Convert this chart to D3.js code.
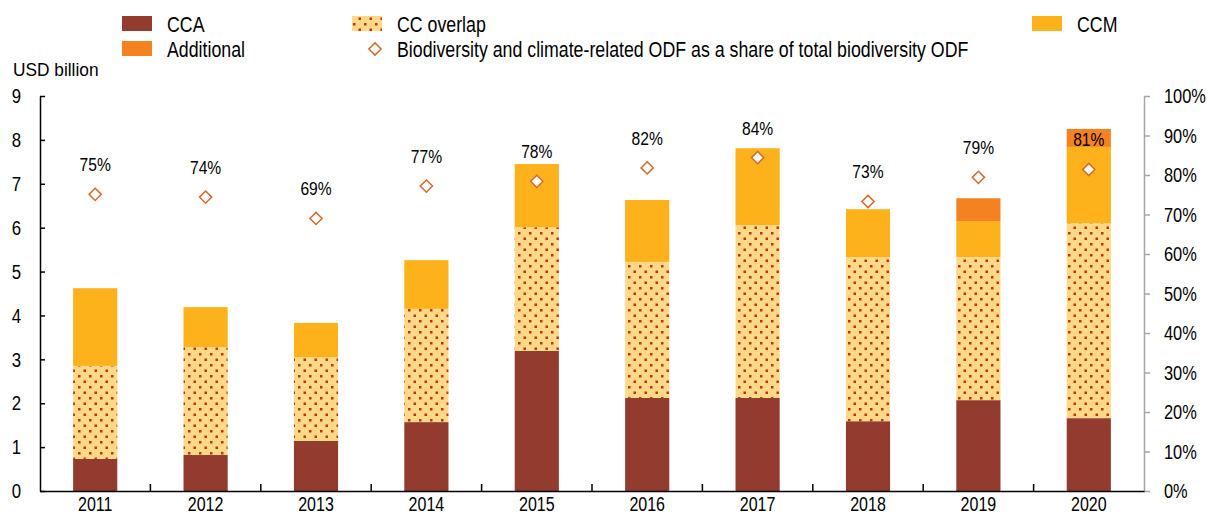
<!DOCTYPE html>
<html>
<head>
<meta charset="utf-8">
<script src="https://cdn.jsdelivr.net/npm/d3@7"></script>
<style>
  body { margin: 0; background: #fff; }
  svg text { font-family: "Liberation Sans", Arial, sans-serif; fill: #000; }
</style>
</head>
<body>
<svg id="svg" width="1208" height="517"></svg>
<script>
// ---- data ----
const years = ['2011', '2012', '2013', '2014', '2015', '2016', '2017', '2018', '2019', '2020'];
const cca        = [0.73, 0.82, 1.14, 1.57, 3.19, 2.12, 2.12, 1.59, 2.07, 1.66];
const ccOverlap  = [2.12, 2.46, 1.91, 2.58, 2.82, 3.10, 3.94, 3.74, 3.26, 4.44];
const ccm        = [1.77, 0.91, 0.78, 1.11, 1.44, 1.41, 1.75, 1.09, 0.82, 1.74];
const additional = [0, 0, 0, 0, 0, 0, 0, 0, 0.52, 0.41];
const share      = [75.1, 74.4, 69.0, 77.2, 78.4, 81.8, 84.4, 73.3, 79.4, 81.4];
const leftTicks  = [0, 1, 2, 3, 4, 5, 6, 7, 8, 9];
const rightTicks = [0, 10, 20, 30, 40, 50, 60, 70, 80, 90, 100];

const colors = { cca: '#943B2F', overlap: '#FFD985', dot: '#B8321E', ccm: '#FDB11A', additional: '#F58220', diamond: '#D8692A' };

const svg = d3.select('#svg');
const plotLeft = 40, plotRight = 1144, plotTop = 96, plotBottom = 491;

// the original uses a narrow font, so squeeze Liberation Sans horizontally
const narrow = (sel, sx, origin) => sel
    .style('transform-box', 'fill-box')
    .style('transform-origin', origin)
    .style('transform', `scaleX(${sx})`);

const x = d3.scaleBand().domain(years).range([plotLeft, plotRight]).padding(0);
const y = d3.scaleLinear().domain([0, 9]).range([plotBottom, plotTop]);
const y2 = d3.scaleLinear().domain([0, 100]).range([plotBottom, plotTop]);

// dotted pattern for the overlap
const defs = svg.append('defs');
const pat = defs.append('pattern')
    .attr('id', 'dots')
    .attr('patternUnits', 'userSpaceOnUse')
    .attr('width', 11).attr('height', 11);
pat.append('rect').attr('width', 11).attr('height', 11).attr('fill', colors.overlap);
pat.append('rect').attr('x', 1).attr('y', 1).attr('width', 2.5).attr('height', 2.5).attr('fill', colors.dot);
pat.append('rect').attr('x', 6.5).attr('y', 6.5).attr('width', 2.5).attr('height', 2.5).attr('fill', colors.dot);

// stacked rows
const rows = years.map((yr, i) => ({ year: yr, cca: cca[i], overlap: ccOverlap[i], ccm: ccm[i], additional: additional[i] }));
const keys = ['cca', 'overlap', 'ccm', 'additional'];
const fills = { cca: colors.cca, overlap: 'url(#dots)', ccm: colors.ccm, additional: colors.additional };
const stacked = d3.stack().keys(keys)(rows);

const barW = x.bandwidth() * 0.4;

svg.append('g').selectAll('g')
  .data(stacked)
  .join('g')
    .attr('fill', d => fills[d.key])
  .selectAll('rect')
  .data(d => d.filter(s => s[1] - s[0] > 0))
  .join('rect')
    .attr('x', d => x(d.data.year) + (x.bandwidth() - barW) / 2)
    .attr('y', d => y(d[1]))
    .attr('width', barW)
    .attr('height', d => y(d[0]) - y(d[1]));

// left axis
const gl = svg.append('g')
    .attr('transform', `translate(${plotLeft},0)`)
    .call(d3.axisLeft(y).tickValues(leftTicks).tickSizeInner(-5).tickSizeOuter(0).tickPadding(19));
gl.selectAll('text').style('font-size', '21px').call(narrow, 0.8, 'right center');
gl.select('.domain').attr('stroke', '#000').attr('stroke-width', 1.5);
gl.selectAll('.tick line').attr('stroke', '#000').attr('stroke-width', 1.5);

// right axis
const gr = svg.append('g')
    .attr('transform', `translate(${plotRight},0)`)
    .call(d3.axisRight(y2).tickValues(rightTicks).tickFormat(d => d + '%').tickSizeInner(6).tickSizeOuter(0).tickPadding(14));
gr.selectAll('text').style('font-size', '20.5px').call(narrow, 0.8, 'left center');
gr.select('.domain').attr('stroke', '#A6A6A6').attr('stroke-width', 1.5);
gr.selectAll('.tick line').attr('stroke', '#A6A6A6').attr('stroke-width', 1.5);

// bottom axis
const gb = svg.append('g')
    .attr('transform', `translate(0,${plotBottom})`)
    .call(d3.axisBottom(x).tickSize(0).tickPadding(6));
gb.selectAll('text').style('font-size', '20px').call(narrow, 0.8, 'center');
gb.select('.domain').attr('stroke', '#000').attr('stroke-width', 1.5);
gb.selectAll('.sep')
  .data(years.slice(1))
  .join('line')
    .attr('class', 'sep')
    .attr('x1', d => x(d)).attr('x2', d => x(d))
    .attr('y1', 0).attr('y2', -7)
    .attr('stroke', '#000').attr('stroke-width', 1.5);

svg.append('text').attr('x', 13).attr('y', 76).style('font-size', '18.6px')
  .text('USD billion').call(narrow, 0.93, 'left center');

// share markers
const diamond = d3.symbol().type(d3.symbolDiamond2).size(95);
svg.append('g').selectAll('path')
  .data(share)
  .join('path')
    .attr('d', diamond)
    .attr('transform', (d, i) => `translate(${x(years[i]) + x.bandwidth() / 2},${y2(d)})`)
    .attr('fill', '#fff')
    .attr('stroke', colors.diamond)
    .attr('stroke-width', 1.5);

svg.append('g').selectAll('text')
  .data(share)
  .join('text')
    .attr('x', (d, i) => x(years[i]) + x.bandwidth() / 2)
    .attr('y', d => y2(d) - 23)
    .attr('text-anchor', 'middle')
    .style('font-size', '18.6px')
    .text(d => d3.format('.0f')(d) + '%')
    .call(narrow, 0.84, 'center');

// legend
const legend = [
  { label: 'CCA', fill: colors.cca, x: 122, y: 16 },
  { label: 'Additional', fill: colors.additional, x: 122, y: 41 },
  { label: 'CC overlap', fill: 'url(#dots)', x: 352, y: 16 },
  { label: 'CCM', fill: colors.ccm, x: 1032, y: 16 }
];
const lg = svg.append('g');
legend.forEach(l => {
  lg.append('rect').attr('x', l.x).attr('y', l.y).attr('width', 30).attr('height', 15).attr('fill', l.fill);
  lg.append('text').attr('x', l.x + 45).attr('y', l.y + 16).style('font-size', '21.4px')
    .text(l.label).call(narrow, 0.83, 'left center');
});
lg.append('path').attr('d', diamond).attr('transform', 'translate(375,49)')
  .attr('fill', '#fff').attr('stroke', colors.diamond).attr('stroke-width', 1.5);
lg.append('text').attr('x', 397).attr('y', 57).style('font-size', '21.4px')
  .text('Biodiversity and climate-related ODF as a share of total biodiversity ODF')
  .call(narrow, 0.83, 'left center');
</script>
</body>
</html>
